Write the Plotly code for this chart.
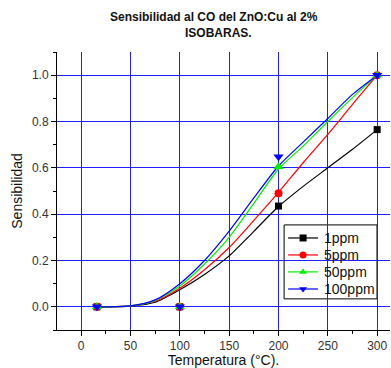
import plotly.graph_objects as go

# Measured sensitivity at each operating temperature
temps = [16, 100, 200, 300]
s_1ppm = [0.0, 0.0, 0.435, 0.765]
s_5ppm = [0.0, 0.0, 0.49, 1.0]
s_50ppm = [0.0, 0.0, 0.605, 1.0]
s_100ppm = [0.0, 0.0, 0.648, 1.0]

# Fitted (sigmoidal) trend curves, sampled along temperature
fit_temps = [16, 25, 50, 75, 100, 125, 150, 175, 200, 225, 250, 275, 300]
fit_1ppm = [0.0, 0.0, 0.003, 0.02, 0.074, 0.14, 0.22, 0.326, 0.433, 0.52, 0.60, 0.68, 0.765]
fit_5ppm = [0.0, 0.0, 0.004, 0.024, 0.08, 0.16, 0.256, 0.373, 0.494, 0.622, 0.744, 0.874, 1.0]
fit_50ppm = [0.0, 0.0, 0.004, 0.028, 0.09, 0.185, 0.30, 0.447, 0.595, 0.694, 0.80, 0.903, 1.0]
fit_100ppm = [0.0, 0.0, 0.004, 0.03, 0.10, 0.20, 0.327, 0.47, 0.608, 0.711, 0.813, 0.917, 1.0]

labels = ["1ppm", "5ppm", "50ppm", "100ppm"]
colors = ["#000000", "#ff0000", "#00ee00", "#0000ff"]
symbols = ["square", "circle", "triangle-up", "triangle-down"]
msizes = [7, 8, 9, 9]
points = [s_1ppm, s_5ppm, s_50ppm, s_100ppm]
fits = [fit_1ppm, fit_5ppm, fit_50ppm, fit_100ppm]

base_font = "Liberation Sans, Arial, sans-serif"

fig = go.Figure()

for col, fit in zip(colors, fits):
    fig.add_trace(go.Scatter(
        x=fit_temps, y=fit, mode="lines",
        line=dict(color=col, width=1.2, shape="spline", smoothing=0.7),
        showlegend=False, hoverinfo="skip",
    ))

for lab, col, sym, ms, pts in zip(labels, colors, symbols, msizes, points):
    fig.add_trace(go.Scatter(
        x=temps, y=pts, mode="markers", name=lab,
        marker=dict(color=col, symbol=sym, size=ms, line=dict(width=0)),
        showlegend=False,
    ))

# Compact boxed key: frame and key lines as paper shapes, key symbols on a hidden overlay axis
key_box = dict(x0=0.682, x1=0.961, y0=0.112, y1=0.378)
key_rows = [0.331, 0.270, 0.209, 0.1475]
key_line = (0.694, 0.784)
key_mark = 0.739
key_text = 0.797

shapes = [dict(type="rect", xref="paper", yref="paper", **key_box,
               line=dict(color="black", width=1), fillcolor="white", layer="between")]
annotations = [
    dict(text="<b>Sensibilidad al CO del ZnO:Cu al 2%</b>", xref="paper", yref="paper",
         x=0.47, y=1.126, xanchor="center", yanchor="middle", showarrow=False,
         font=dict(family=base_font, size=12, color="#111111")),
    dict(text="<b>ISOBARAS.</b>", xref="paper", yref="paper",
         x=0.485, y=1.068, xanchor="center", yanchor="middle", showarrow=False,
         font=dict(family=base_font, size=12, color="#111111")),
]
for lab, col, sym, ry in zip(labels, colors, symbols, key_rows):
    shapes.append(dict(type="line", xref="paper", yref="paper",
                       x0=key_line[0], x1=key_line[1], y0=ry, y1=ry,
                       line=dict(color=col, width=1.2), layer="between"))
    fig.add_trace(go.Scatter(
        x=[key_mark], y=[ry], xaxis="x2", yaxis="y2", mode="markers",
        marker=dict(color=col, symbol=sym, size=7, line=dict(width=0)),
        showlegend=False, hoverinfo="skip",
    ))
    annotations.append(dict(
        text=lab, xref="paper", yref="paper", x=key_text, y=ry,
        xanchor="left", yanchor="middle", showarrow=False,
        font=dict(family=base_font, size=14, color="#111111"),
    ))

fig.update_layout(
    width=391, height=368,
    margin=dict(l=57, r=1, t=52, b=38),
    paper_bgcolor="white", plot_bgcolor="white",
    font=dict(family=base_font, size=12, color="#222222"),
    showlegend=False,
    shapes=shapes,
    annotations=annotations,
    xaxis=dict(
        range=[-24.5, 313], tick0=0, dtick=50,
        showgrid=True, gridcolor="#2020ff", gridwidth=1,
        zeroline=False, showline=True, linecolor="black", linewidth=1,
        ticks="outside", ticklen=5, tickcolor="black", tickwidth=1,
        minor=dict(dtick=25, tick0=0, ticks="outside", ticklen=3, tickcolor="black", showgrid=False),
        title=dict(text="Temperatura (°C).", font=dict(size=14, color="#111111"), standoff=2),
        tickfont=dict(size=12, color="#333333"),
    ),
    yaxis=dict(
        range=[-0.1, 1.1], tick0=0, dtick=0.2, tickformat=".1f",
        showgrid=True, gridcolor="#2020ff", gridwidth=1,
        zeroline=False, showline=True, linecolor="black", linewidth=1,
        ticks="outside", ticklen=5, tickcolor="black", tickwidth=1,
        minor=dict(dtick=0.1, tick0=0, ticks="outside", ticklen=3, tickcolor="black", showgrid=False),
        title=dict(text="Sensibilidad", font=dict(size=14, color="#111111"), standoff=6),
        tickfont=dict(size=12, color="#333333"),
    ),
    xaxis2=dict(overlaying="x", range=[0, 1], visible=False, fixedrange=True),
    yaxis2=dict(overlaying="y", range=[0, 1], visible=False, fixedrange=True),
)

fig.write_html("out.html")
